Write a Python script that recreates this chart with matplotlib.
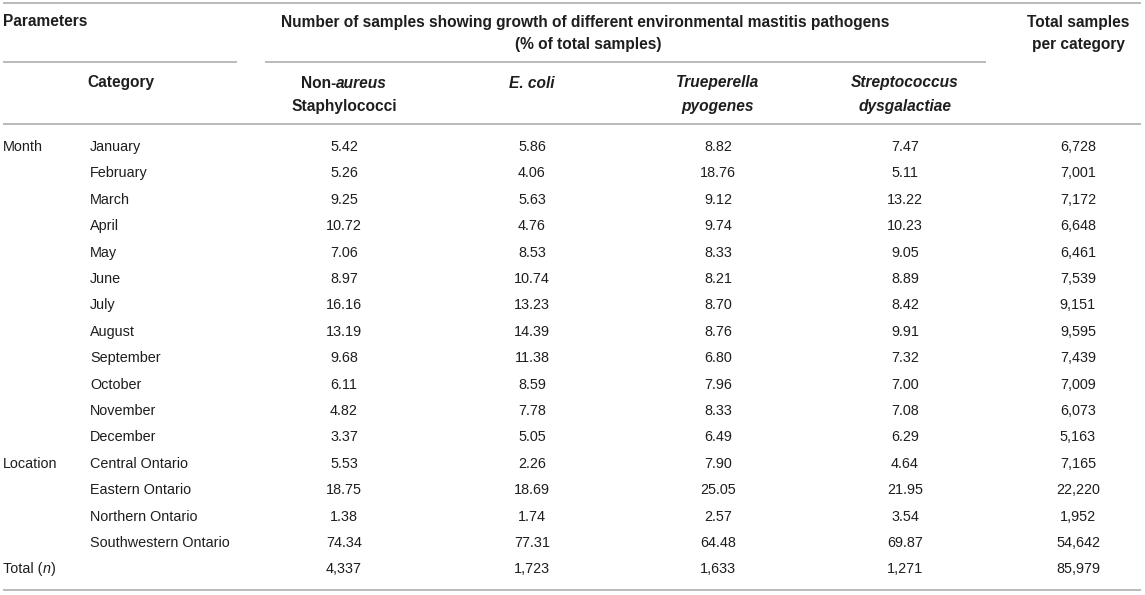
import matplotlib
matplotlib.use('Agg')
import matplotlib.pyplot as plt

plt.rcParams['font.family'] = ['Liberation Sans', 'DejaVu Sans']

# table data
months = ['January', 'February', 'March', 'April', 'May', 'June', 'July',
          'August', 'September', 'October', 'November', 'December']
locations = ['Central Ontario', 'Eastern Ontario', 'Northern Ontario',
             'Southwestern Ontario']
non_aureus = [5.42, 5.26, 9.25, 10.72, 7.06, 8.97, 16.16, 13.19, 9.68, 6.11, 4.82, 3.37,
              5.53, 18.75, 1.38, 74.34]
e_coli = [5.86, 4.06, 5.63, 4.76, 8.53, 10.74, 13.23, 14.39, 11.38, 8.59, 7.78, 5.05,
          2.26, 18.69, 1.74, 77.31]
trueperella = [8.82, 18.76, 9.12, 9.74, 8.33, 8.21, 8.70, 8.76, 6.80, 7.96, 8.33, 6.49,
               7.90, 25.05, 2.57, 64.48]
strep = [7.47, 5.11, 13.22, 10.23, 9.05, 8.89, 8.42, 9.91, 7.32, 7.00, 7.08, 6.29,
         4.64, 21.95, 3.54, 69.87]
samples_per_cat = [6728, 7001, 7172, 6648, 6461, 7539, 9151, 9595, 7439, 7009, 6073, 5163,
                   7165, 22220, 1952, 54642]
total_n = [4337, 1723, 1633, 1271, 85979]

W, H = 1145, 595
fig = plt.figure(figsize=(W / 100, H / 100), dpi=100)
ax = fig.add_axes([0, 0, 1, 1])
ax.set_xlim(0, W)
ax.set_ylim(H, 0)
ax.axis('off')

TXT = '#1e1e1e'
LINE = '#b4b4b4'
FS = 10.4
FS_HDR = 11.2
col_x = [344, 532, 718, 905, 1078]
row0, row_h = 147, 26.4

renderer = fig.canvas.get_renderer()


def rich(x, y, parts, ha='center', weight='normal', size=FS):
    # draw text made of regular / italic pieces side by side
    texts = [ax.text(0, y, s, style=st, weight=weight, fontsize=size, color=TXT,
                     va='center', ha='left') for s, st in parts]
    widths = [t.get_window_extent(renderer).width for t in texts]
    pos = x - sum(widths) / 2 if ha == 'center' else x
    for t, w in zip(texts, widths):
        t.set_x(pos)
        pos += w


# rules
for y, x0, x1 in [(3, 3, 1141), (62, 3, 237), (62, 265, 986), (124, 3, 1141), (590, 3, 1141)]:
    ax.plot([x0, x1], [y, y], color=LINE, lw=1.3, solid_capstyle='butt')

# header
hdr = dict(fontsize=FS_HDR, color=TXT, weight='bold', va='center')
ax.text(3, 22, 'Parameters', ha='left', **hdr)
ax.text(585, 22, 'Number of samples showing growth of different environmental mastitis pathogens',
        ha='center', **hdr)
ax.text(588, 45, '(% of total samples)', ha='center', **hdr)
ax.text(col_x[4], 22, 'Total samples', ha='center', **hdr)
ax.text(col_x[4], 45, 'per category', ha='center', **hdr)
ax.text(121, 83, 'Category', ha='center', **hdr)
rich(col_x[0], 83, [('Non-', 'normal'), ('aureus', 'italic')], weight='bold', size=FS_HDR)
ax.text(col_x[0], 106, 'Staphylococci', ha='center', **hdr)
ax.text(col_x[1], 83, 'E. coli', ha='center', style='italic', **hdr)
ax.text(col_x[2], 83, 'Trueperella', ha='center', style='italic', **hdr)
ax.text(col_x[2], 106, 'pyogenes', ha='center', style='italic', **hdr)
ax.text(col_x[3], 83, 'Streptococcus', ha='center', style='italic', **hdr)
ax.text(col_x[3], 106, 'dysgalactiae', ha='center', style='italic', **hdr)

# body
body = dict(fontsize=FS, color=TXT, va='center')
categories = months + locations
for i, cat in enumerate(categories):
    y = row0 + i * row_h
    if i == 0:
        ax.text(3, y, 'Month', ha='left', **body)
    if i == len(months):
        ax.text(3, y, 'Location', ha='left', **body)
    ax.text(90, y, cat, ha='left', **body)
    vals = [non_aureus[i], e_coli[i], trueperella[i], strep[i]]
    for x, v in zip(col_x[:4], vals):
        ax.text(x, y, f'{v:.2f}', ha='center', **body)
    ax.text(col_x[4], y, f'{samples_per_cat[i]:,}', ha='center', **body)

y = row0 + len(categories) * row_h
rich(3, y, [('Total (', 'normal'), ('n', 'italic'), (')', 'normal')], ha='left')
for x, v in zip(col_x, total_n):
    ax.text(x, y, f'{v:,}', ha='center', **body)

fig.savefig('out.png', dpi=100)
